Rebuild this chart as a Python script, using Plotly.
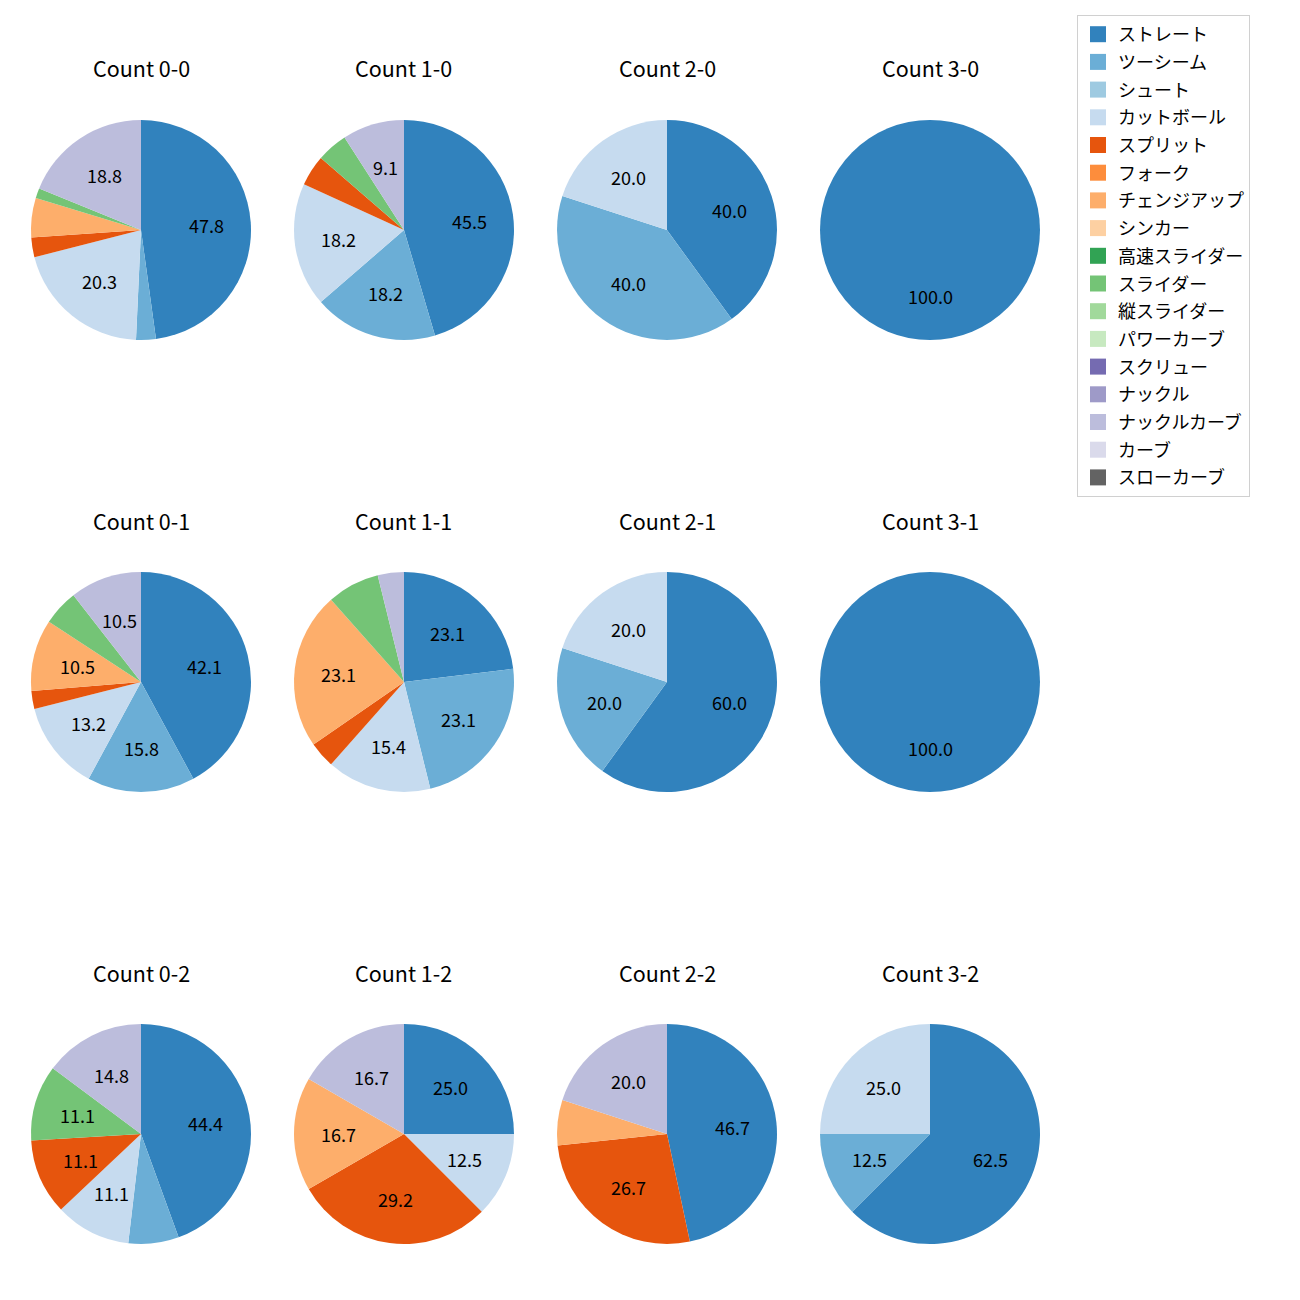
import math
import plotly.graph_objects as go

pitch_types = ["ストレート", "ツーシーム", "シュート", "カットボール", "スプリット", "フォーク",
               "チェンジアップ", "シンカー", "高速スライダー", "スライダー", "縦スライダー",
               "パワーカーブ", "スクリュー", "ナックル", "ナックルカーブ", "カーブ", "スローカーブ"]
colors = ["#3182bd", "#6baed6", "#9ecae1", "#c6dbef", "#e6550d", "#fd8d3c", "#fdae6b", "#fdd0a2",
          "#31a354", "#74c476", "#a1d99b", "#c7e9c0", "#756bb1", "#9e9ac8", "#bcbddc", "#dadaeb",
          "#636363"]

# pitch counts per ball-strike count (order follows pitch_types)
c_0_0 = [33, 2, 0, 14, 2, 0, 4, 0, 0, 1, 0, 0, 0, 0, 13, 0, 0]
c_1_0 = [10, 4, 0, 4, 1, 0, 0, 0, 0, 1, 0, 0, 0, 0, 2, 0, 0]
c_2_0 = [2, 2, 0, 1, 0, 0, 0, 0, 0, 0, 0, 0, 0, 0, 0, 0, 0]
c_3_0 = [1, 0, 0, 0, 0, 0, 0, 0, 0, 0, 0, 0, 0, 0, 0, 0, 0]
c_0_1 = [16, 6, 0, 5, 1, 0, 4, 0, 0, 2, 0, 0, 0, 0, 4, 0, 0]
c_1_1 = [6, 6, 0, 4, 1, 0, 6, 0, 0, 2, 0, 0, 0, 0, 1, 0, 0]
c_2_1 = [3, 1, 0, 1, 0, 0, 0, 0, 0, 0, 0, 0, 0, 0, 0, 0, 0]
c_3_1 = [1, 0, 0, 0, 0, 0, 0, 0, 0, 0, 0, 0, 0, 0, 0, 0, 0]
c_0_2 = [12, 2, 0, 3, 3, 0, 0, 0, 0, 3, 0, 0, 0, 0, 4, 0, 0]
c_1_2 = [6, 0, 0, 3, 7, 0, 4, 0, 0, 0, 0, 0, 0, 0, 4, 0, 0]
c_2_2 = [7, 0, 0, 0, 4, 0, 1, 0, 0, 0, 0, 0, 0, 0, 3, 0, 0]
c_3_2 = [5, 1, 0, 2, 0, 0, 0, 0, 0, 0, 0, 0, 0, 0, 0, 0, 0]

count_titles = ["Count 0-0", "Count 1-0", "Count 2-0", "Count 3-0",
                "Count 0-1", "Count 1-1", "Count 2-1", "Count 3-1",
                "Count 0-2", "Count 1-2", "Count 2-2", "Count 3-2"]
count_data = [c_0_0, c_1_0, c_2_0, c_3_0, c_0_1, c_1_1, c_2_1, c_3_1,
              c_0_2, c_1_2, c_2_2, c_3_2]

W = H = 1300
FONT = "Noto Sans CJK JP"
col_cx = [141, 404, 667, 930]
row_cy = [230, 682, 1134]
R = 110

fig = go.Figure()
annotations = []

for k, (title, vals) in enumerate(zip(count_titles, count_data)):
    r, c = divmod(k, 4)
    cx, cy = col_cx[c], row_cy[r]
    labs = [p for p, v in zip(pitch_types, vals) if v > 0]
    vv = [v for v in vals if v > 0]
    cc = [col for col, v in zip(colors, vals) if v > 0]
    fig.add_trace(go.Pie(
        labels=labs, values=vv, marker=dict(colors=cc, line=dict(width=0)),
        sort=False, direction="clockwise", rotation=0, textinfo="none",
        hoverinfo="label+percent", showlegend=False,
        domain=dict(x=[(cx - R) / W, (cx + R) / W], y=[1 - (cy + R) / H, 1 - (cy - R) / H]),
    ))
    total = sum(vv)
    cum = 0
    for v in vv:
        pct = 100 * v / total
        mid = math.radians(90 - 360 * (cum + v / 2) / total)
        cum += v
        if pct >= 8:
            annotations.append(dict(
                x=(cx + 0.6 * R * math.cos(mid)) / W, y=1 - (cy - 0.6 * R * math.sin(mid)) / H,
                xref="paper", yref="paper", text=f"{pct:.1f}", showarrow=False,
                xanchor="center", yanchor="middle", font=dict(family=FONT, size=18, color="black")))
    annotations.append(dict(
        x=cx / W, y=1 - (cy - 162) / H, xref="paper", yref="paper", text=title,
        showarrow=False, xanchor="center", yanchor="middle",
        font=dict(family=FONT, size=21.5, color="black")))

# legend entries
for p, col in zip(pitch_types, colors):
    fig.add_trace(go.Scatter(
        x=[None], y=[None], mode="markers", name=p, legendgroup=p,
        marker=dict(symbol="square", size=16, color=col), showlegend=True))

fig.update_layout(
    template="none", width=W, height=H, margin=dict(l=0, r=0, t=0, b=0),
    paper_bgcolor="white", plot_bgcolor="white",
    xaxis=dict(visible=False), yaxis=dict(visible=False),
    annotations=annotations,
    legend=dict(x=1077 / W, y=1 - 15 / H, xanchor="left", yanchor="top",
                bgcolor="white", bordercolor="#d0d0d0", borderwidth=1,
                font=dict(family=FONT, size=18, color="black"),
                traceorder="grouped", tracegroupgap=1.3,
                entrywidth=194, entrywidthmode="pixels"),
    font=dict(family=FONT),
)

fig.write_html("out.html")
